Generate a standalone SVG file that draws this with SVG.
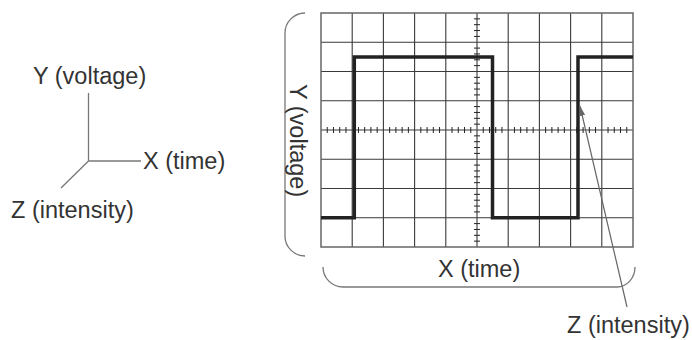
<svg xmlns="http://www.w3.org/2000/svg" width="692" height="340" viewBox="0 0 692 340">
  <style>
    .lbl { font-family: "Liberation Sans", Arial, sans-serif; font-size: 23.5px; fill: #333; }
    .axis { fill: none; stroke: #777; stroke-width: 1.3; }
    .grid { fill: none; stroke: #3a3a3a; stroke-width: 1.1; }
    .frame { fill: none; stroke: #666; stroke-width: 1.5; }
    .tick { fill: none; stroke: #222; stroke-width: 1; }
    .wave { fill: none; stroke: #222; stroke-width: 3.5; stroke-linejoin: miter; }
    .brace { fill: none; stroke: #777; stroke-width: 1.3; }
  </style>
  <defs>
    <marker id="ah" viewBox="0 0 10 6" refX="10" refY="3" markerWidth="10" markerHeight="6" markerUnits="userSpaceOnUse" orient="auto">
      <path d="M0,0 L10,3 L0,6 Z" fill="#666"/>
    </marker>
  </defs>
  <rect width="692" height="340" fill="#fff"/>

  <g id="axes-legend">
    <text class="lbl" x="33" y="84">Y (voltage)</text>
    <text class="lbl" x="143" y="169">X (time)</text>
    <text class="lbl" x="11" y="218">Z (intensity)</text>
  </g>

  <g id="scope">
    <g id="scope-grid">
      <path class="grid" d="M352.2,13V247M383.4,13V247M414.6,13V247M445.8,13V247M477,13V247M508.2,13V247M539.4,13V247M570.6,13V247M601.8,13V247M321,42.25H633M321,71.5H633M321,100.75H633M321,130H633M321,159.25H633M321,188.5H633M321,217.75H633"/>
      <rect class="frame" x="321" y="13" width="312" height="234"/>
      <path class="tick" d="M327.24,127v6M333.48,127v6M339.72,127v6M345.96,127v6M358.44,127v6M364.68,127v6M370.92,127v6M377.16,127v6M389.64,127v6M395.88,127v6M402.12,127v6M408.36,127v6M420.84,127v6M427.08,127v6M433.32,127v6M439.56,127v6M452.04,127v6M458.28,127v6M464.52,127v6M470.76,127v6M483.24,127v6M489.48,127v6M495.72,127v6M501.96,127v6M514.44,127v6M520.68,127v6M526.92,127v6M533.16,127v6M545.64,127v6M551.88,127v6M558.12,127v6M564.36,127v6M576.84,127v6M583.08,127v6M589.32,127v6M595.56,127v6M608.04,127v6M614.28,127v6M620.52,127v6M626.76,127v6"/>
      <path class="tick" d="M474,18.85h6M474,24.7h6M474,30.55h6M474,36.4h6M474,48.1h6M474,53.95h6M474,59.8h6M474,65.65h6M474,77.35h6M474,83.2h6M474,89.05h6M474,94.9h6M474,106.6h6M474,112.45h6M474,118.3h6M474,124.15h6M474,135.85h6M474,141.7h6M474,147.55h6M474,153.4h6M474,165.1h6M474,170.95h6M474,176.8h6M474,182.65h6M474,194.35h6M474,200.2h6M474,206.05h6M474,211.9h6M474,223.6h6M474,229.45h6M474,235.3h6M474,241.15h6"/>
    </g>
    <path id="square-wave" class="wave" d="M321,217.75H354.3V57H492.5V217.75H578V57H633"/>
    <path id="y-brace" class="brace" d="M305,13 A20,20 0 0 0 285,33 V236 A20,20 0 0 0 305,256"/>
    <path id="x-brace" class="brace" d="M323,267 A20,20 0 0 0 343,287 H617 A18,20 0 0 0 635,267"/>
    <text class="lbl" transform="translate(290,84) rotate(90)">Y (voltage)</text>
    <text class="lbl" x="438" y="277">X (time)</text>
    <text class="lbl" x="567" y="333">Z (intensity)</text>
  </g>

  <g id="connectors">
    <path class="axis" d="M88.5,93V161"/>
    <path class="axis" d="M88.5,161H141"/>
    <path class="axis" d="M88.5,161L61,188"/>
    <path class="axis" d="M627,307L580,106" marker-end="url(#ah)" style="stroke:#666;stroke-width:1.2"/>
  </g>
</svg>
